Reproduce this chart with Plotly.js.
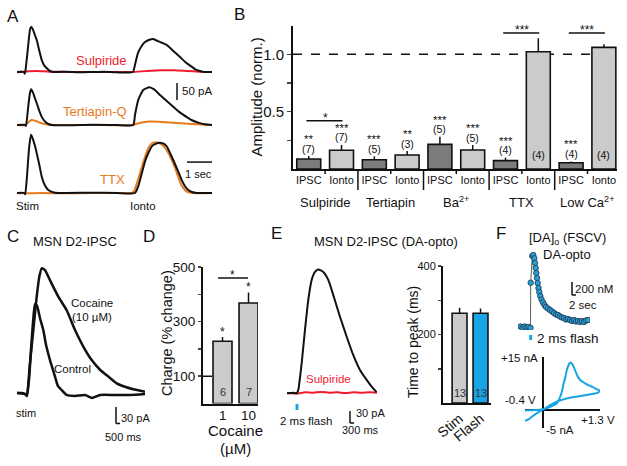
<!DOCTYPE html>
<html><head><meta charset="utf-8">
<script src="https://cdn.plot.ly/plotly-3.0.1.min.js"></script>
<style>html,body{margin:0;padding:0;background:#fff}#chart{width:627px;height:466px}</style>
</head><body><div id="chart"></div>
<script>
// ================= DATA =================
// Panel A: current traces (time s, current pA)
const aSulpBlack = [[0,0],[0.28,0],[0.31,-5],[0.34,5],[0.45,80],[0.52,125],[0.57,133],[0.63,126],[0.72,108],[0.79,94],[0.9,60],[0.99,35],[1.1,18],[1.19,11],[1.3,4],[1.44,0],[2,1],[2.5,-1],[3,0],[3.5,1],[4,-1],[4.64,0],[4.7,15],[4.84,56],[5.0,78],[5.12,88],[5.3,95],[5.44,97],[5.6,92],[5.8,86],[6.0,79],[6.25,62],[6.52,44],[6.75,28],[7.0,15],[7.15,7],[7.32,3],[7.5,0],[7.8,0]];
const aSulpDrug  = [[0,-1],[0.5,2],[0.8,3],[1.3,1],[2,0],[3,0],[4,0],[4.6,0],[5.2,3],[5.8,5],[6.3,5],[6.8,3],[7.3,1],[7.8,0]];
const aTertBlack = [[0,0],[0.33,0],[0.36,-3],[0.45,55],[0.52,95],[0.57,105],[0.64,95],[0.72,78],[0.79,64],[0.9,40],[0.99,24],[1.1,12],[1.25,3],[1.4,0],[2,-1],[3,1],[4,0],[4.65,0],[4.72,30],[4.85,74],[5.05,103],[5.29,111],[5.5,104],[5.72,88],[6.0,70],[6.25,54],[6.5,38],[6.78,24],[7.0,14],[7.25,7],[7.5,2],[7.8,0]];
const aTertDrug  = [[0,0],[0.35,0],[0.45,8],[0.58,15],[0.75,12],[0.95,6],[1.2,2],[1.5,0],[3,0],[4.6,0],[4.9,6],[5.3,10],[5.8,9],[6.4,6],[7,3],[7.8,0]];
const aTtxBlack  = [[0,0],[0.3,0],[0.33,-4],[0.4,50],[0.48,130],[0.56,171],[0.63,160],[0.72,138],[0.79,117],[0.9,80],[0.99,48],[1.1,25],[1.25,9],[1.52,1],[2,0],[3,1],[4,0],[4.72,0],[4.85,20],[4.99,58],[5.13,95],[5.25,117],[5.4,138],[5.52,144],[5.72,148],[5.9,144],[6.0,136],[6.12,118],[6.25,97],[6.42,68],[6.59,38],[6.72,20],[6.85,9],[7.0,3],[7.19,0],[7.8,0]];
const aTtxDrug   = [[0,0],[0.3,-1],[1,0],[2,-1],[3,0],[4,0],[4.6,0],[4.7,8],[4.8,30],[4.92,58],[5.05,90],[5.19,121],[5.32,140],[5.45,148],[5.65,148],[5.8,142],[5.99,126],[6.12,108],[6.25,87],[6.4,58],[6.52,33],[6.65,15],[6.79,4],[7.0,0],[7.8,0]];

// Panel B: normalized amplitudes
const bTickLabels = ['IPSC','Ionto','IPSC','Ionto','IPSC','Ionto','IPSC','Ionto','IPSC','Ionto'];
const bGroups = ['Sulpiride','Tertiapin','Ba<sup>2+</sup>','TTX','Low Ca<sup>2+</sup>'];
const bValues = [0.087,0.163,0.081,0.122,0.215,0.166,0.073,1.023,0.055,1.061];
const bErrors = [0.026,0.047,0.029,0.035,0.067,0.043,0.026,0.117,0.011,0.026];
const bStars  = ['**','***','***','**','***','***','***','','***',''];
const bN      = ['(7)','(7)','(5)','(3)','(5)','(5)','(4)','(4)','(4)','(4)'];
const bSig    = [[0,1,0.42,'*'],[6,7,1.186,'***'],[8,9,1.186,'***']];

// Panel C: traces (time ms, current pA)
const cControl = [[-200,0],[-100,0],[-40,-1.8],[0,-5.3],[40,23],[80,76],[120,125],[160,157],[200,154],[260,132],[326,111],[380,85],[460,58],[560,29],[620,12],[694,5],[794,-3.5],[960,-5.3],[1160,-3.5],[1300,-8.8],[1460,-3.5],[1760,-3.5],[2060,-3.5],[2360,-1.8]];
const cCocaine = [[-200,0],[-40,-1.8],[-6,-3.5],[60,53],[126,111],[194,170],[246,205],[294,220],[360,217],[460,199],[626,170],[794,146],[960,111],[1126,82],[1294,58],[1460,41],[1626,29],[1794,17],[1960,11],[2126,6.5],[2360,2.3]];

// Panel D: charge (% change)
const dLabels = ['1','10'];
const dValues = [228,368];
const dErrors = [16,39];
const dN = ['6','7'];

// Panel E: DA-opto IPSC (time ms, current pA) and time to peak
const eControl = [[-128,-1.5],[-46,0],[-4,-1.5],[16,7],[58,74],[99,157],[140,232],[182,282],[223,302],[264,308],[326,302],[388,282],[450,244],[533,190],[616,140],[698,94],[781,57],[864,32],[926,15],[988,1]];
const eSulp = [[-124,-1],[0,-2],[100,1],[200,0],[300,2],[400,0],[500,1],[600,-1],[700,1],[800,0],[900,1],[990,0]];
const eLabels = ['Stim','Flash'];
const eValues = [262,262];
const eErrors = [16,14];
const eN = ['13','13'];

// Panel F: [DA]o (time s, nM) and cyclic voltammogram (V, nA)
const fDA = [[-1.02,7],[-0.82,-15],[-0.62,8],[-0.42,-8],[-0.22,0],[-0.02,-12],[0.0,664],[0.16,1065],[0.26,1080],[0.36,1030],[0.43,960],[0.5,885],[0.56,810],[0.63,735],[0.7,660],[0.78,585],[0.86,525],[0.96,465],[1.08,413],[1.23,368],[1.38,330],[1.53,300],[1.73,278],[1.93,255],[2.13,233],[2.33,210],[2.53,188],[2.73,180],[2.93,158],[3.13,143],[3.33,135],[3.53,113],[3.73,120],[3.93,105],[4.13,90],[4.33,105],[4.53,83],[4.73,90],[4.93,75],[5.13,90],[5.33,75],[5.53,98],[5.73,105]];
const fCV = [[-0.4,-0.08],[-0.29,0],[-0.17,0.06],[-0.02,0.2],[0.1,0.6],[0.21,1.17],[0.32,1.87],[0.37,3.0],[0.43,4.94],[0.47,7.2],[0.51,9.1],[0.55,11.4],[0.59,12.8],[0.62,13.4],[0.65,13.3],[0.69,12.6],[0.73,11.4],[0.8,9.4],[0.87,8.3],[0.96,7.6],[1.05,7.0],[1.14,6.5],[1.23,5.9],[1.3,5.5],[1.25,4.9],[1.16,4.66],[1.03,4.39],[0.89,4.1],[0.76,3.8],[0.62,3.5],[0.48,3.1],[0.35,2.6],[0.21,1.7],[0.1,0.9],[-0.01,0.06],[-0.13,-0.8],[-0.22,-1.6],[-0.31,-2.5],[-0.4,-3.0]];

// ================= STYLE / LAYOUT =================
const W = 627, H = 466;
const FONT = 'Liberation Sans, Arial, Helvetica, sans-serif';
const INK = '#111';
const RED = '#ee1c2e', ORANGE = '#e87a1e', BLUE = '#17a5e6';
const DARKGRAY = '#7c7c7c', LIGHTGRAY = '#cbcbcb';
const dX = (a,b) => [a/W, b/W];
const dY = (t,b) => [1-b/H, 1-t/H];
const hid = (domain, range, anchor) => ({domain, range, anchor, visible:false, fixedrange:true});

function line(pairs, xa, ya, color, width) {
  return {type:'scatter', mode:'lines', x:pairs.map(p=>p[0]), y:pairs.map(p=>p[1]),
    xaxis:xa, yaxis:ya, line:{color, width, shape:'spline', smoothing:0.5}, hoverinfo:'skip'};
}
function T(text, x, y, size, color, xanchor, extra) {
  return Object.assign({text, x:x/W, y:1-y/H, xref:'paper', yref:'paper', showarrow:false, borderpad:0,
    xanchor:xanchor||'center', yanchor:'middle', font:{family:FONT, size, color:color||INK}}, extra||{});
}
function D(text, x, y, xref, yref, yshift, size, color) {
  return {text, x, y, xref, yref, showarrow:false, borderpad:0, yanchor:'middle', yshift, font:{family:FONT, size, color:color||INK}};
}
function pline(x0,y0,x1,y1,color,width) {
  return {type:'line', xref:'paper', yref:'paper', x0:x0/W, y0:1-y0/H, x1:x1/W, y1:1-y1/H, line:{color:color||INK, width:width||1.5}};
}
function barTrace(vals, errs, colors, xa, ya, width) {
  return {type:'bar', x:vals.map((v,i)=>i), y:vals, xaxis:xa, yaxis:ya, width,
    marker:{color:colors, line:{color:INK, width:1.6}},
    error_y:{type:'data', symmetric:false, array:errs, arrayminus:errs.map(()=>0), color:INK, thickness:1.5, width:0},
    hoverinfo:'skip'};
}
const axLine = {showline:true, linecolor:INK, linewidth:2, showgrid:false, zeroline:false, fixedrange:true};

const traces = [
  line(aSulpDrug,'x','y',RED,2), line(aSulpBlack,'x','y',INK,2),
  line(aTertDrug,'x','y2',ORANGE,2), line(aTertBlack,'x','y2',INK,2),
  line(aTtxDrug,'x','y3',ORANGE,2), line(aTtxBlack,'x','y3',INK,2),
  barTrace(bValues, bErrors, bValues.map((v,i)=> i%2===0 ? DARKGRAY : LIGHTGRAY), 'x2','y4',0.73),
  line(cControl,'x3','y5',INK,2.5), line(cCocaine,'x3','y5',INK,2.5),
  barTrace(dValues, dErrors, dValues.map(()=>LIGHTGRAY), 'x4','y6',0.73),
  line(eSulp,'x5','y7',RED,2), line(eControl,'x5','y7',INK,2),
  barTrace(eValues, eErrors, [LIGHTGRAY, BLUE], 'x6','y8',0.71),
  {type:'scatter', mode:'lines+markers', x:fDA.map(p=>p[0]), y:fDA.map(p=>p[1]), xaxis:'x7', yaxis:'y9',
    line:{color:'#333', width:0.8}, marker:{size:5.5, color:'#2b9fd3', line:{color:'#1b3550', width:0.8}}, hoverinfo:'skip'},
  line(fCV,'x8','y10',BLUE,2)
];

const annotations = [
  T('A',12.5,16,17), T('B',239,15,17), T('C',13,236,17), T('D',149,236,17), T('E',276,233,17), T('F',501,233,17),
  // A
  T('Sulpiride',101,61,13,RED), T('Tertiapin-Q',95,112,13,ORANGE), T('TTX',113,179,13,ORANGE),
  T('50 pA',181,91,11.5,INK,'left'), T('1 sec',199,174,11), T('Stim',27,206,11.5), T('Ionto',143,206,11.5),
  // B
  T('Amplitude (norm.)',255.5,97,15,INK,'center',{textangle:-90}),
  // C
  T('MSN D2-IPSC',75,242,13), T('Cocaine',92,303,11.5), T('(10 µM)',92,317,11.5), T('Control',72,369,11.5),
  T('stim',26,413,11), T('30 pA',120,418,11,INK,'left'), T('500 ms',123,437,11),
  // D
  T('Charge (% change)',167,333,14.5,INK,'center',{textangle:-90}), T('Cocaine',235,430,15), T('(µM)',235,448,15),
  // E
  T('MSN D2-IPSC (DA-opto)',386,242,13), T('Sulpiride',328,379,11.5,RED), T('2 ms flash',306,421,11.5),
  T('30 pA',355,413,11,INK,'left'), T('300 ms',360,430,11), T('Time to peak (ms)',413,342,14,INK,'center',{textangle:-90}),
  // F
  T('[DA]<sub>o</sub> (FSCV)',567,238,13), T('DA-opto',567,255,13), T('200 nM',574,289,11.5,INK,'left'),
  T('2 sec',568,305,11.5,INK,'left'), T('2 ms flash',536,338,13.5,INK,'left'),
  T('+15 nA',519.5,358,11.5), T('-0.4 V',520,400,11.5), T('+1.3 V',598,420,11.5), T('-5 nA',560,430,11.5)
];
// B bar annotations
bValues.forEach((v,i)=>{
  const top = v + bErrors[i];
  if (bStars[i]) {
    annotations.push(D(bStars[i], i, top, 'x2', 'y4', 17, 11.5));
    annotations.push(D(bN[i], i, top, 'x2', 'y4', 7.5, 10.5));
  } else {
    annotations.push(D(bN[i], i, 0, 'x2', 'y4', 14, 10.5));
  }
});
bGroups.forEach((g,k)=>{
  annotations.push({text:g, x:2*k+0.5, y:1-202/H, xref:'x2', yref:'paper', showarrow:false, borderpad:0, yanchor:'middle', font:{family:FONT,size:13,color:INK}});
});
// D annotations
dValues.forEach((v,i)=>{
  annotations.push(D('*', i, v+dErrors[i], 'x4', 'y6', 5, 12));
  annotations.push(D(dN[i], i, 0, 'x4', 'y6', 11.5, 11, '#333'));
  annotations.push({text:dLabels[i], x:i, y:1-415/H, xref:'x4', yref:'paper', showarrow:false, borderpad:0, yanchor:'middle', font:{family:FONT,size:13.5,color:INK}});
});
// E annotations
eValues.forEach((v,i)=>{
  annotations.push(D(eN[i], i, 0, 'x6', 'y8', 10, 11, '#333'));
});

const shapes = [
  // A scale bars (in data units: 50 pA, 1 s)
  {type:'line', xref:'x', yref:'y2', x0:6.4, x1:6.4, y0:73.5, y1:123.5, line:{color:INK,width:1.5}},
  {type:'line', xref:'x', yref:'y3', x0:6.8, x1:7.8, y0:91, y1:91, line:{color:INK,width:1.5}},
  // B dashed reference
  {type:'line', xref:'x2', yref:'y4', x0:-0.48, x1:9.4, y0:1, y1:1, layer:'below', line:{color:INK,width:1.5,dash:'dash'}},
  // C scale bars
  pline(116,407,116,423.5), pline(116,423.5,120,423.5),
  // D dashed + sig
  {type:'line', xref:'x4', yref:'y6', x0:-0.75, x1:1.365, y0:100, y1:100, layer:'below', line:{color:INK,width:1.5,dash:'dash'}},
  {type:'line', xref:'x4', yref:'y6', x0:-0.17, x1:0.98, y0:460, y1:460, line:{color:INK,width:1.5}},
  // E flash + scale bars
  {type:'rect', xref:'x5', yref:'paper', x0:-18, x1:18, y0:1-410/H, y1:1-404/H, fillcolor:BLUE, line:{width:0}},
  pline(350,411,350,423), pline(350,423,354,423),
  // F flash + scale bars
  {type:'rect', xref:'x7', yref:'paper', x0:-0.15, x1:0.15, y0:1-340/H, y1:1-335/H, fillcolor:BLUE, line:{width:0}},
  pline(572,282,572,295), pline(572,295,576,295)
];
[1.5,3.5,5.5,7.5].forEach(x=>shapes.push({type:'line', xref:'x2', yref:'paper', x0:x, x1:x, y0:1-169/H, y1:1-190/H, line:{color:INK,width:1.5}}));
[0.5,2.5,4.5,6.5,8.5].forEach(x=>shapes.push({type:'line', xref:'x2', yref:'paper', x0:x, x1:x, y0:1-169/H, y1:1-174/H, line:{color:INK,width:1.5}}));
bSig.forEach(([i,j,y,s])=>{
  shapes.push({type:'line', xref:'x2', yref:'y4', x0:i-0.07, x1:j+0.03, y0:y, y1:y, line:{color:INK,width:1.5}});
  annotations.push(D(s, (i+j)/2, y, 'x2', 'y4', 3, 12));
});
annotations.push(D('*', 0.4, 460, 'x4', 'y6', 3, 12));

const layout = {
  width:W, height:H, margin:{l:0,r:0,t:0,b:0}, showlegend:false,
  paper_bgcolor:'#fff', plot_bgcolor:'rgba(0,0,0,0)',
  font:{family:FONT, color:INK},
  xaxis: hid(dX(17,212),[0,7.8],'y'),
  yaxis: hid(dY(20,80),[-23.5,152.9],'x'),
  yaxis2: hid(dY(80,133),[-23.5,132.4],'x'),
  yaxis3: hid(dY(130,201),[-23.5,185.3],'x'),
  xaxis2: Object.assign({}, axLine, {domain:dX(293,617), range:[-0.48,9.4], anchor:'y4',
    tickmode:'array', tickvals:bTickLabels.map((t,i)=>i), ticktext:bTickLabels, ticks:'', tickfont:{size:11}}),
  yaxis4: Object.assign({}, axLine, {domain:dY(26,169), range:[0,1.247], anchor:'x2',
    tickmode:'array', tickvals:[0.25,0.5,0.75,1.0], ticktext:['','0.5','','1.0'], ticks:'outside', ticklen:4, tickwidth:1.5, tickfont:{size:15}}),
  xaxis3: hid(dX(17,145),[-200,2360],'y5'),
  yaxis5: hid(dY(260,400),[-12.4,234.7],'x3'),
  xaxis4: Object.assign({}, axLine, {domain:dX(203,258), range:[-0.75,1.365], anchor:'y6',
    showticklabels:false, ticks:''}),
  yaxis6: Object.assign({}, axLine, {domain:dY(267,403.5), range:[0,500], anchor:'x4',
    tickmode:'array', tickvals:[100,200,300,400,500], ticktext:['100','','300','','500'], ticks:'outside', ticklen:3, tickwidth:1.5, tickfont:{size:13.5}}),
  xaxis5: hid(dX(287,377),[-124,992],'y7'),
  yaxis7: hid(dY(262,400),[-18.25,326.75],'x5'),
  xaxis6: Object.assign({}, axLine, {domain:dX(443,491), range:[-0.79,1.5], anchor:'y8',
    tickmode:'array', tickvals:[0,1], ticktext:eLabels, ticks:'', tickangle:-40, tickfont:{size:14}}),
  yaxis8: Object.assign({}, axLine, {domain:dY(266,403), range:[0,400], anchor:'x6',
    tickmode:'array', tickvals:[100,200,300,400], ticktext:['','200','','400'], ticks:'outside', ticklen:3, tickwidth:1.5, tickfont:{size:11}}),
  xaxis7: hid(dX(518,590),[-1.27,5.93],'y9'),
  yaxis9: hid(dY(250,330),[-45,1155],'x7'),
  xaxis8: {domain:dX(525,600), range:[-0.4,1.3], anchor:'y10', showgrid:false, showticklabels:false, ticks:'', showline:false,
    zeroline:true, zerolinecolor:INK, zerolinewidth:2, fixedrange:true},
  yaxis10: {domain:dY(357,428), range:[-5,15], anchor:'x8', showgrid:false, showticklabels:false, ticks:'', showline:false,
    zeroline:true, zerolinecolor:INK, zerolinewidth:2, fixedrange:true},
  annotations, shapes
};

Plotly.newPlot('chart', traces, layout, {staticPlot:true, displayModeBar:false});
</script>
</body></html>
